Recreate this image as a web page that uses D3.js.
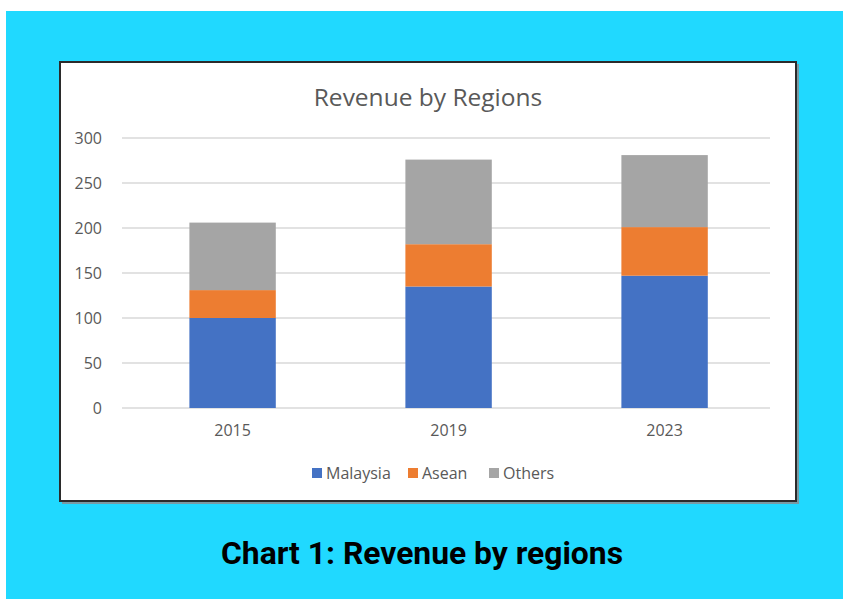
<!DOCTYPE html>
<html>
<head>
<meta charset="utf-8">
<script src="https://cdn.jsdelivr.net/npm/d3@7"></script>
<style>
    body { margin: 0; background: #fff; }
    svg { display: block; }
</style>
</head>
<body>
<svg width="843" height="599"></svg>
<script>

// Data
var years = ["2015", "2019", "2023"];
var malaysia = [100, 135, 147];
var asean = [31, 47, 54];
var others = [75, 94, 80];
var keys = ["Malaysia", "Asean", "Others"];
var yTicks = [0, 50, 100, 150, 200, 250, 300];

var rows = years.map(function(y, i){
    return {Year: y, Malaysia: malaysia[i], Asean: asean[i], Others: others[i]};
});

var svg = d3.select("svg");

/* --------- cyan background + white chart frame --------- */
svg.append("rect")
    .attr("x", 6).attr("y", 11)
    .attr("width", 837).attr("height", 588)
    .attr("fill", "#20d9ff");

svg.append("rect")      // soft shadow
    .attr("x", 62).attr("y", 64)
    .attr("width", 737).attr("height", 440)
    .attr("fill", "#7a9aa3");

svg.append("rect")
    .attr("x", 60).attr("y", 62)
    .attr("width", 736).attr("height", 439)
    .attr("fill", "#fff")
    .attr("stroke", "#2b2b2b")
    .attr("stroke-width", 2);

var margin = {top: 138, left: 122},
    width = 648,
    height = 270,
    g = svg.append("g").attr("transform", "translate(" + margin.left + "," + margin.top + ")");

var x = d3.scaleBand()
    .domain(years)
    .range([0, width])
    .paddingInner(0.6)
    .paddingOuter(0.3)
    .align(0.52);

var y = d3.scaleLinear()
    .domain([0, 300])
    .range([height, 0]);

var z = d3.scaleOrdinal()
    .domain(keys)
    .range(["#4472c4", "#ed7d31", "#a5a5a5"]);

/* --------- gridlines --------- */
g.append("g")
    .selectAll("line")
    .data(yTicks)
    .enter().append("line")
    .attr("x1", 0)
    .attr("x2", width)
    .attr("y1", function(d){ return y(d); })
    .attr("y2", function(d){ return y(d); })
    .attr("stroke", "#d9d9d9")
    .attr("stroke-width", 1.5);

/* --------- stacked bars --------- */
g.append("g")
    .selectAll("g")
    .data(d3.stack().keys(keys)(rows))
    .enter().append("g")
    .attr("fill", function(d){ return z(d.key); })
    .selectAll("rect")
    .data(function(d){ return d; })
    .enter().append("rect")
    .attr("x", function(d){ return x(d.data.Year); })
    .attr("y", function(d){ return y(d[1]); })
    .attr("height", function(d){ return y(d[0]) - y(d[1]); })
    .attr("width", x.bandwidth());

/* --------- axes (labels only, no domain line) --------- */
var yAxis = g.append("g")
    .attr("transform", "translate(-20,0)")
    .call(d3.axisLeft(y).tickValues(yTicks).tickSize(0).tickPadding(0));
yAxis.select(".domain").remove();
yAxis.selectAll("text")
    .attr("font-family", "Open Sans")
    .attr("font-size", 16)
    .attr("fill", "#595959");

var xAxis = g.append("g")
    .attr("transform", "translate(0," + height + ")")
    .call(d3.axisBottom(x).tickSize(0).tickPadding(17));
xAxis.select(".domain").remove();
xAxis.selectAll("text")
    .attr("font-family", "Open Sans")
    .attr("font-size", 16)
    .attr("fill", "#595959");

/* --------- title --------- */
svg.append("text")
    .attr("x", 428)
    .attr("y", 106)
    .attr("text-anchor", "middle")
    .attr("font-family", "Open Sans")
    .attr("font-size", 24.5)
    .attr("fill", "#595959")
    .text("Revenue by Regions");

/* --------- legend --------- */
var legendX = [312, 408, 489];
var legend = svg.append("g")
    .attr("font-family", "Open Sans")
    .attr("font-size", 16)
    .selectAll("g")
    .data(keys)
    .enter().append("g")
    .attr("transform", function(d, i){ return "translate(" + legendX[i] + ",468)"; });

legend.append("rect")
    .attr("width", 10)
    .attr("height", 10)
    .attr("fill", z);

legend.append("text")
    .attr("x", 14)
    .attr("y", 5)
    .attr("dy", "0.35em")
    .attr("fill", "#595959")
    .text(function(d){ return d; });

/* --------- caption --------- */
svg.append("text")
    .attr("x", 422)
    .attr("y", 564)
    .attr("text-anchor", "middle")
    .attr("font-family", "Roboto")
    .attr("font-weight", "bold")
    .attr("font-size", 31)
    .attr("textLength", 402)
    .attr("lengthAdjust", "spacingAndGlyphs")
    .attr("fill", "#000")
    .text("Chart 1: Revenue by regions");

</script>
</body>
</html>
